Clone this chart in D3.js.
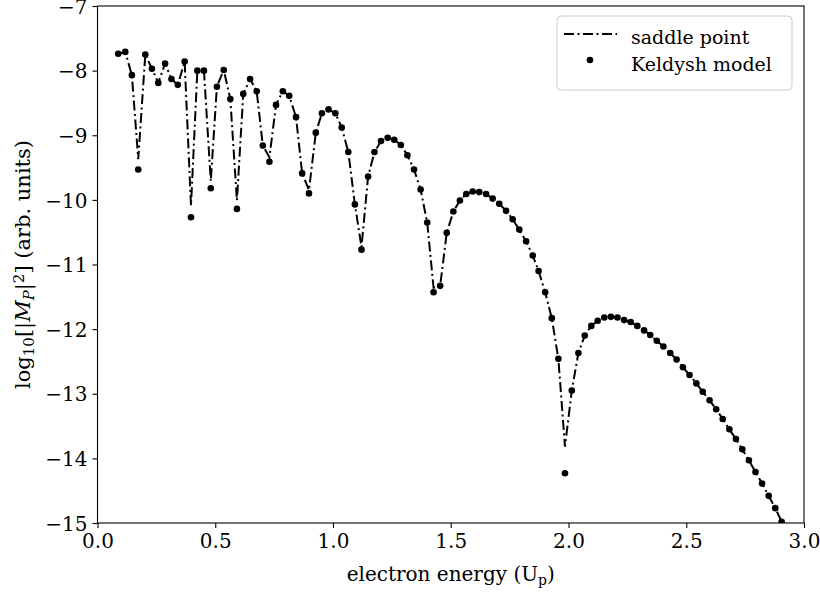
<!DOCTYPE html>
<html>
<head>
<meta charset="utf-8">
<script src="https://cdn.jsdelivr.net/npm/d3@7"></script>
<style>
  body { margin: 0; background: #fff; }
  svg { display: block; }
  text { font-family: "DejaVu Serif", "Liberation Serif", serif; fill: #000; }
</style>
</head>
<body>
<script>
// electron energy (Up) grid shared by both curves
var energy = [
  0.088, 0.118, 0.146, 0.173, 0.203, 0.231, 0.258, 0.287, 0.314, 0.341,
  0.370, 0.397, 0.424, 0.452, 0.481, 0.507, 0.536, 0.564, 0.592, 0.619,
  0.648, 0.676, 0.702, 0.730, 0.758, 0.787, 0.814, 0.843, 0.869, 0.898,
  0.927, 0.953, 0.981, 1.010, 1.037, 1.065, 1.093, 1.121, 1.149, 1.176,
  1.204, 1.232, 1.260, 1.288, 1.316, 1.344, 1.372, 1.400, 1.427, 1.455,
  1.483, 1.511, 1.539, 1.566, 1.593, 1.621, 1.650, 1.678, 1.706, 1.735,
  1.763, 1.791, 1.820, 1.848, 1.873, 1.901, 1.929, 1.957, 1.985, 2.014,
  2.042, 2.069, 2.097, 2.124, 2.152, 2.180, 2.208, 2.236, 2.264, 2.292,
  2.321, 2.347, 2.375, 2.403, 2.432, 2.459, 2.486, 2.514, 2.543, 2.570,
  2.599, 2.627, 2.655, 2.683, 2.711, 2.738, 2.766, 2.794, 2.822, 2.850,
  2.878, 2.905
]

// Keldysh model (dots)
var keldysh = [
  -7.74, -7.71, -8.07, -9.53, -7.75, -7.97, -8.19, -7.89, -8.13, -8.22,
  -7.86, -10.27, -8.00, -8.00, -9.82, -8.25, -7.99, -8.44, -10.14, -8.36,
  -8.13, -8.32, -9.16, -9.41, -8.53, -8.32, -8.39, -8.72, -9.59, -9.90,
  -8.96, -8.66, -8.60, -8.66, -8.88, -9.26, -10.07, -10.77, -9.64, -9.26,
  -9.09, -9.04, -9.07, -9.15, -9.31, -9.53, -9.84, -10.35, -11.43, -11.33,
  -10.51, -10.18, -10.01, -9.91, -9.87, -9.88, -9.91, -9.98, -10.06, -10.17,
  -10.30, -10.46, -10.64, -10.86, -11.10, -11.43, -11.83, -12.46, -14.23, -12.95,
  -12.37, -12.10, -11.95, -11.87, -11.82, -11.81, -11.82, -11.86, -11.89, -11.95,
  -12.02, -12.09, -12.18, -12.27, -12.37, -12.47, -12.59, -12.71, -12.84, -12.97,
  -13.10, -13.24, -13.39, -13.55, -13.70, -13.86, -14.03, -14.21, -14.39, -14.58,
  -14.77, -14.98
]

// saddle point (dash-dot line), shallower at the minima
var saddle = [
  -7.74, -7.71, -8.07, -9.37, -7.75, -7.97, -8.19, -7.89, -8.13, -8.22,
  -7.86, -10.09, -8.00, -8.00, -9.71, -8.25, -7.99, -8.44, -10.01, -8.36,
  -8.13, -8.32, -9.16, -9.34, -8.53, -8.32, -8.39, -8.72, -9.59, -9.85,
  -8.96, -8.66, -8.60, -8.66, -8.88, -9.26, -10.07, -10.73, -9.64, -9.26,
  -9.09, -9.04, -9.07, -9.15, -9.31, -9.53, -9.84, -10.35, -11.36, -11.33,
  -10.51, -10.18, -10.01, -9.91, -9.87, -9.88, -9.91, -9.98, -10.06, -10.17,
  -10.30, -10.46, -10.64, -10.86, -11.10, -11.43, -11.83, -12.46, -13.82, -12.95,
  -12.37, -12.10, -11.95, -11.87, -11.82, -11.81, -11.82, -11.86, -11.89, -11.95,
  -12.02, -12.09, -12.18, -12.27, -12.37, -12.47, -12.59, -12.71, -12.84, -12.97,
  -13.10, -13.24, -13.39, -13.55, -13.70, -13.86, -14.03, -14.21, -14.39, -14.58,
  -14.77, -14.98
]

var xTicks = [0, 0.5, 1, 1.5, 2, 2.5, 3]
var yTicks = [-15, -14, -13, -12, -11, -10, -9, -8, -7]

var width = 820, height = 593
var margin = { top: 6, right: 16, bottom: 70, left: 97.5 }
var w = width - margin.left - margin.right
var h = height - margin.top - margin.bottom
var dash = '10,3.5,2,3.5'
var fontFam = '"DejaVu Serif", "Liberation Serif", serif'

var svg = d3.select('body').append('svg')
    .attr('width', width)
    .attr('height', height)
var g = svg.append('g')
    .attr('transform', 'translate(' + margin.left + ',' + margin.top + ')')

var xScale = d3.scaleLinear().domain([0, 3]).range([0, w])
var yScale = d3.scaleLinear().domain([-15, -7]).range([h, 0])

g.append('clipPath').attr('id', 'plot-clip')
  .append('rect').attr('width', w).attr('height', h)

var data = energy.map(function (e, i) {
  return { x: e, k: keldysh[i], s: saddle[i] }
})

// saddle point curve
var line = d3.line()
    .x(function (d) { return xScale(d.x) })
    .y(function (d) { return yScale(d.s) })
g.append('path')
    .datum(data)
    .attr('clip-path', 'url(#plot-clip)')
    .attr('d', line)
    .attr('fill', 'none')
    .attr('stroke', '#000')
    .attr('stroke-width', 2)
    .attr('stroke-dasharray', dash)

// Keldysh dots
g.append('g')
    .attr('clip-path', 'url(#plot-clip)')
  .selectAll('circle')
    .data(data)
    .enter()
  .append('circle')
    .attr('cx', function (d) { return xScale(d.x) })
    .attr('cy', function (d) { return yScale(d.k) })
    .attr('r', 3.3)
    .attr('fill', '#000')

// axes
var xAxis = d3.axisBottom(xScale)
    .tickValues(xTicks)
    .tickFormat(d3.format('.1f'))
    .tickSize(5)
    .tickPadding(6)
var yAxis = d3.axisLeft(yScale)
    .tickValues(yTicks)
    .tickFormat(d3.format('d'))
    .tickSize(5)
    .tickPadding(5)

var gx = g.append('g')
    .attr('transform', 'translate(0,' + h + ')')
    .call(xAxis)
var gy = g.append('g').call(yAxis)

;[gx, gy].forEach(function (ax) {
  ax.attr('font-family', fontFam).attr('font-size', 20)
  ax.select('.domain').remove()
  ax.selectAll('line').attr('stroke', '#000').attr('stroke-width', 1.1)
  ax.selectAll('text')
    .attr('fill', '#000')
    .style('font-family', fontFam)
    .style('font-size', '20px')
})
gy.selectAll('text').attr('dy', '0.36em')

// frame
g.append('rect')
    .attr('width', w)
    .attr('height', h)
    .attr('fill', 'none')
    .attr('stroke', '#000')
    .attr('stroke-width', 1.1)

// x label
var xl = svg.append('text')
    .attr('x', margin.left + w / 2)
    .attr('y', 581)
    .attr('text-anchor', 'middle')
    .style('font-size', '20px')
xl.append('tspan').text('electron energy (U')
xl.append('tspan').attr('baseline-shift', '-28%').style('font-size', '14px').text('p')
xl.append('tspan').text(')')

// y label
var yl = svg.append('text')
    .attr('transform', 'translate(30,' + (margin.top + h / 2) + ') rotate(-90)')
    .attr('text-anchor', 'middle')
    .style('font-size', '21px')
yl.append('tspan').text('log')
yl.append('tspan').attr('baseline-shift', '-28%').style('font-size', '15px').text('10')
yl.append('tspan').text('[|')
yl.append('tspan').style('font-style', 'italic').text('M')
yl.append('tspan').attr('baseline-shift', '-28%').style('font-size', '15px').style('font-style', 'italic').text('P')
yl.append('tspan').text('|')
yl.append('tspan').attr('baseline-shift', '40%').style('font-size', '15px').text('2')
yl.append('tspan').text('] (arb. units)')

// legend
var lg = svg.append('g').attr('transform', 'translate(557,16)')
lg.append('rect')
    .attr('width', 235)
    .attr('height', 74)
    .attr('rx', 4)
    .attr('fill', '#fff')
    .attr('fill-opacity', 0.8)
    .attr('stroke', '#ccc')
lg.append('line')
    .attr('x1', 7).attr('x2', 60)
    .attr('y1', 18).attr('y2', 18)
    .attr('stroke', '#000')
    .attr('stroke-width', 2)
    .attr('stroke-dasharray', dash)
lg.append('circle')
    .attr('cx', 33).attr('cy', 44)
    .attr('r', 3.3)
    .attr('fill', '#000')
lg.append('text')
    .attr('x', 74).attr('y', 28)
    .style('font-size', '19px')
    .text('saddle point')
lg.append('text')
    .attr('x', 74).attr('y', 55)
    .style('font-size', '19px')
    .text('Keldysh model')
</script>
</body>
</html>
